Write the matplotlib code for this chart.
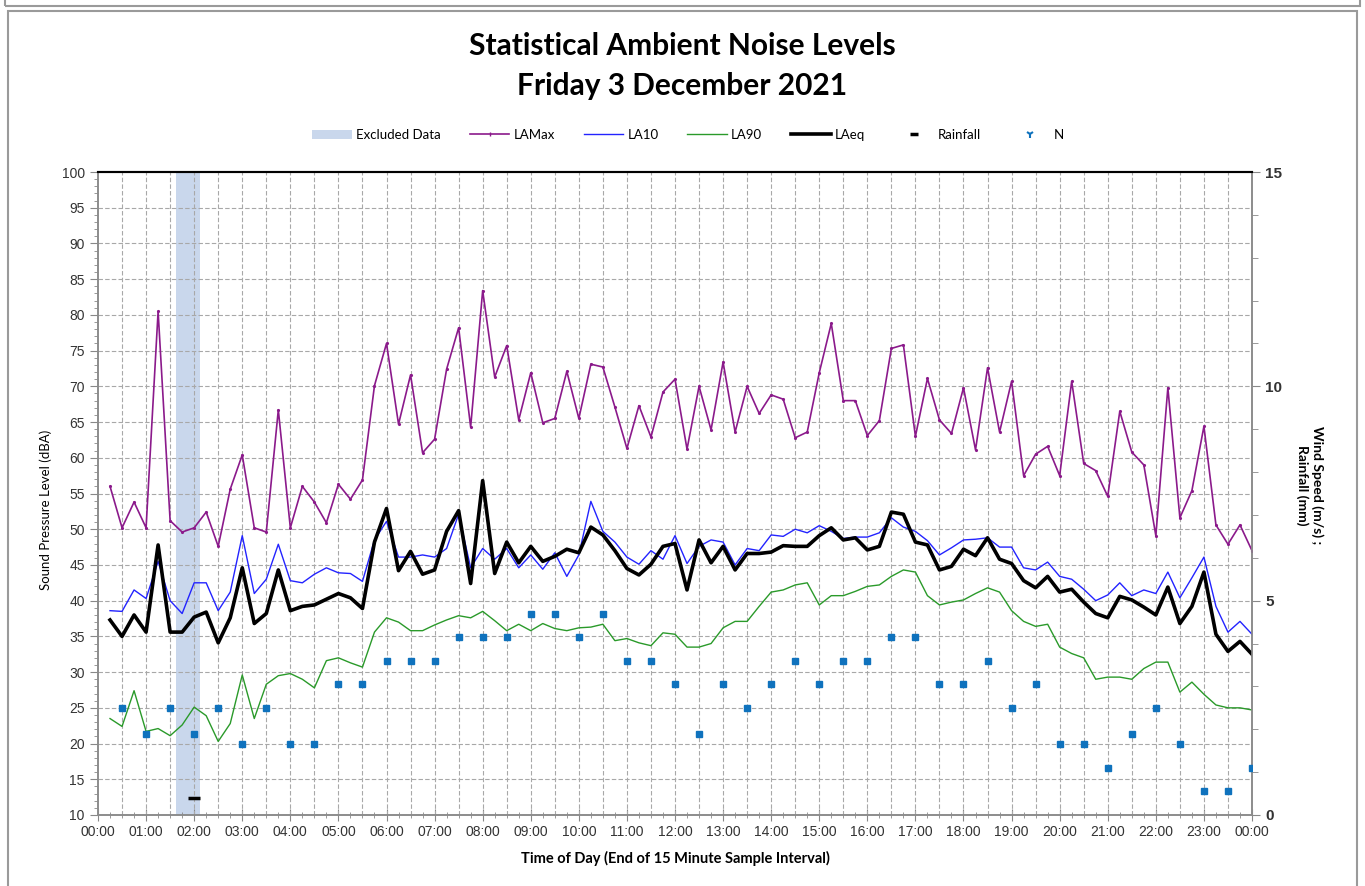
import matplotlib
matplotlib.use("Agg")
import matplotlib.pyplot as plt
import numpy as np
from matplotlib.lines import Line2D
from matplotlib.patches import Patch, Rectangle
from matplotlib.ticker import MultipleLocator

# 15 minute samples, end of interval, 00:15 .. 24:00 (in hours)
sample_hours = np.arange(1, 97) * 0.25
wind_hours = np.arange(1, 49) * 0.5

la_max = [56.0, 50.2, 53.8, 50.2, 80.5, 51.2, 49.6, 50.2, 52.4, 47.6, 55.6, 60.4,
          50.2, 49.6, 66.7, 50.2, 56.0, 53.8, 50.9, 56.3, 54.2, 56.9, 70.1, 76.0,
          64.7, 71.6, 60.7, 62.6, 72.4, 78.2, 64.3, 83.4, 71.3, 75.7, 65.3, 71.9,
          64.9, 65.5, 72.1, 65.5, 73.1, 72.7, 67.1, 61.3, 67.3, 62.9, 69.2, 71.0,
          61.2, 70.0, 63.9, 73.4, 63.6, 70.0, 66.2, 68.8, 68.2, 62.8, 63.6, 71.9,
          78.8, 68.0, 68.0, 63.1, 65.2, 75.3, 75.8, 63.0, 71.1, 65.3, 63.4, 69.8,
          61.1, 72.6, 63.6, 70.7, 57.5, 60.5, 61.6, 57.5, 70.7, 59.2, 58.2, 54.6,
          66.5, 60.8, 59.0, 49.1, 69.8, 51.6, 55.4, 64.4, 50.6, 47.9, 50.6, 47.0]

la10 = [38.6, 38.5, 41.5, 40.3, 45.5, 40.0, 38.2, 42.5, 42.5, 38.6, 41.2, 49.1,
        41.0, 43.0, 47.9, 42.8, 42.5, 43.7, 44.6, 43.9, 43.8, 42.7, 48.5, 51.1,
        46.1, 46.1, 46.4, 46.1, 47.3, 52.1, 44.6, 47.3, 45.8, 47.3, 44.6, 46.4,
        44.4, 46.7, 43.4, 46.4, 53.9, 49.7, 48.2, 46.1, 45.1, 47.0, 45.8, 49.1,
        45.2, 47.6, 48.5, 48.2, 45.0, 47.3, 47.0, 49.2, 49.0, 50.0, 49.5, 50.5,
        49.7, 48.7, 48.9, 48.9, 49.5, 51.6, 50.3, 49.7, 48.4, 46.4, 47.4, 48.5,
        48.6, 48.8, 47.5, 47.5, 44.6, 44.3, 45.4, 43.4, 43.0, 41.6, 40.0, 40.8,
        42.5, 40.7, 41.5, 41.0, 44.0, 40.4, 43.2, 46.1, 39.2, 35.6, 37.1, 35.3]

la90 = [23.5, 22.4, 27.4, 21.7, 22.1, 21.1, 22.6, 25.1, 23.9, 20.3, 22.8, 29.6,
        23.5, 28.3, 29.5, 29.8, 29.0, 27.8, 31.6, 32.0, 31.3, 30.7, 35.6, 37.6,
        37.0, 35.8, 35.8, 36.6, 37.3, 37.9, 37.6, 38.5, 37.2, 35.8, 36.7, 35.8,
        36.8, 36.1, 35.8, 36.2, 36.3, 36.7, 34.4, 34.7, 34.1, 33.7, 35.5, 35.3,
        33.5, 33.5, 34.0, 36.2, 37.1, 37.1, 39.2, 41.2, 41.5, 42.2, 42.5, 39.4,
        40.7, 40.7, 41.3, 42.0, 42.2, 43.4, 44.3, 44.0, 40.7, 39.4, 39.8, 40.1,
        41.0, 41.8, 41.2, 38.6, 37.1, 36.4, 36.7, 33.5, 32.6, 32.0, 29.0, 29.3,
        29.3, 29.0, 30.5, 31.4, 31.4, 27.2, 28.6, 26.9, 25.4, 25.0, 25.0, 24.7]

la_eq = [37.3, 35.0, 38.0, 35.6, 47.8, 35.6, 35.6, 37.7, 38.4, 34.1, 37.6, 44.6,
         36.8, 38.2, 44.3, 38.6, 39.2, 39.4, 40.2, 41.0, 40.4, 38.9, 48.2, 52.9,
         44.2, 46.9, 43.7, 44.3, 49.7, 52.6, 42.4, 56.8, 43.8, 48.2, 45.3, 47.6,
         45.5, 46.2, 47.2, 46.7, 50.3, 49.2, 47.0, 44.5, 43.6, 45.1, 47.6, 48.0,
         41.5, 48.5, 45.3, 47.6, 44.3, 46.6, 46.6, 46.8, 47.7, 47.6, 47.6, 49.1,
         50.2, 48.5, 48.8, 47.1, 47.6, 52.4, 52.1, 48.2, 47.8, 44.3, 44.8, 47.2,
         46.3, 48.8, 45.8, 45.2, 42.8, 41.8, 43.4, 41.2, 41.6, 39.8, 38.2, 37.6,
         40.6, 40.1, 39.1, 38.0, 41.9, 36.8, 39.2, 44.0, 35.3, 32.9, 34.3, 32.5]

wind_speed = [2.5, 1.9, 2.5, 1.9, 2.5, 1.65, 2.5, 1.65, 1.65, 3.05, 3.05, 3.6,
              3.6, 3.6, 4.15, 4.15, 4.15, 4.7, 4.7, 4.15, 4.7, 3.6, 3.6, 3.05,
              1.9, 3.05, 2.5, 3.05, 3.6, 3.05, 3.6, 3.6, 4.15, 4.15, 3.05, 3.05,
              3.6, 2.5, 3.05, 1.65, 1.65, 1.1, 1.9, 2.5, 1.65, 0.55, 0.55, 1.1]

rain_hours = [2.0]
rain_mm = [0.4]

excluded_start = 1.625
excluded_end = 2.125

hour_labels = ["%02d:00" % (h % 24) for h in range(25)]

FONT = ["Liberation Sans", "DejaVu Sans"]
TITLE_FONT = ["Lato", "DejaVu Sans"]

fig = plt.figure(figsize=(13.65, 8.86), dpi=100)

# outer frames like the report page
fig.patches.append(Rectangle((5 / 1365, 1 - 6 / 886), 1355 / 1365, 0.02,
                             transform=fig.transFigure, fill=False,
                             edgecolor="#9a9a9a", lw=1.5))
fig.patches.append(Rectangle((8 / 1365, -0.01), 1349 / 1365, 1 - 11 / 886 + 0.01,
                             transform=fig.transFigure, fill=False,
                             edgecolor="#9a9a9a", lw=1.5))

ax = fig.add_axes([98 / 1365, 1 - 815 / 886, (1252 - 98) / 1365, (815 - 172) / 886])
ax2 = ax.twinx()

ax.axvspan(excluded_start, excluded_end, color="#c9d7ec", zorder=1, lw=0)

ax.plot(sample_hours, la_max, color="#8b1a8b", lw=1.2, marker=".", ms=2.5, zorder=3)
ax.plot(sample_hours, la10, color="#2323ff", lw=1.0, zorder=3)
ax.plot(sample_hours, la90, color="#2a9a2a", lw=1.0, zorder=3)
ax.plot(sample_hours, la_eq, color="black", lw=2.6, zorder=4)

ax2.plot(wind_hours, wind_speed, ls="none", marker="s", ms=5, color="#0f72bd", zorder=5)
ax2.plot(rain_hours, rain_mm, ls="none", marker="_", ms=9, mew=2.5, color="black", zorder=5)

ax.set_xlim(0, 24)
ax.set_ylim(10, 100)
ax2.set_ylim(0, 15)

ax.set_xticks(np.arange(25))
ax.set_xticklabels(hour_labels, fontsize=10, color="#333333", family=FONT)
ax.xaxis.set_minor_locator(MultipleLocator(0.25))
ax.tick_params(axis="x", which="major", direction="inout", length=8, color="#888888")
ax.tick_params(axis="x", which="minor", direction="inout", length=4, color="#888888")

ax.yaxis.set_major_locator(MultipleLocator(5))
ax.yaxis.set_minor_locator(MultipleLocator(1))
ax.tick_params(axis="y", which="major", direction="out", length=6, color="#888888",
               labelsize=10, labelcolor="#333333")
ax.tick_params(axis="y", which="minor", direction="out", length=3, color="#888888")
for lab in ax.get_yticklabels():
    lab.set_family(FONT)

ax2.yaxis.set_major_locator(MultipleLocator(5))
ax2.yaxis.set_minor_locator(MultipleLocator(1))
ax2.tick_params(axis="y", which="major", direction="out", length=6, color="#888888",
                labelsize=11, labelcolor="#333333")
ax2.tick_params(axis="y", which="minor", direction="out", length=4, color="#888888")
for lab in ax2.get_yticklabels():
    lab.set_family(FONT)
    lab.set_fontweight("bold")

# grid: every 30 minutes and every 5 dB
for x in np.arange(0.5, 24.01, 0.5):
    ax.axvline(x, color="#a8a8a8", lw=0.8, ls=(0, (4, 2)), zorder=2)
for y in np.arange(15, 100, 5):
    ax.axhline(y, color="#a8a8a8", lw=0.8, ls=(0, (4, 2)), zorder=2)

for a in (ax, ax2):
    for side in ("left", "right", "bottom"):
        a.spines[side].set_color("#8c8c8c")
        a.spines[side].set_linewidth(1.2)
    a.spines["top"].set_color("black")
    a.spines["top"].set_linewidth(1.5)

ax.set_ylabel("Sound Pressure Level (dBA)", fontsize=9.5, family=TITLE_FONT)
ax.yaxis.set_label_coords(-0.040, 0.474)
ax2.set_ylabel("Wind Speed (m/s) ;\nRainfall (mm)", fontsize=10, family=TITLE_FONT,
               rotation=270, fontweight="bold")
ax2.yaxis.set_label_coords(1.062, 0.513)
ax.set_xlabel("Time of Day (End of 15 Minute Sample Interval)", fontsize=10.5,
              family=TITLE_FONT, fontweight="bold", labelpad=8)

fig.text(0.5, 1 - 46 / 886, "Statistical Ambient Noise Levels", ha="center",
         va="center", fontsize=21.5, fontweight="bold", family=TITLE_FONT)
fig.text(0.5, 1 - 86 / 886, "Friday 3 December 2021", ha="center",
         va="center", fontsize=21.5, fontweight="bold", family=TITLE_FONT)

handles = [
    Patch(facecolor="#c9d7ec", edgecolor="none", label="Excluded Data"),
    Line2D([], [], color="#8b1a8b", lw=1.2, marker="|", ms=3, label="LAMax"),
    Line2D([], [], color="#2323ff", lw=1.0, label="LA10"),
    Line2D([], [], color="#2a9a2a", lw=1.0, label="LA90"),
    Line2D([], [], color="black", lw=2.6, label="LAeq"),
    Line2D([], [], ls="none", marker="_", ms=6, mew=2.5, color="black", label="Rainfall"),
    Line2D([], [], ls="none", marker="1", ms=6, mew=1.5, color="#0f72bd", label="N"),
]
fig.legend(handles=handles, loc="center", bbox_to_anchor=(688 / 1365, 1 - 135 / 886),
           ncol=7, frameon=False, handlelength=3, handletextpad=0.3,
           columnspacing=2.2, prop={"family": TITLE_FONT, "size": 9.5})

fig.savefig("out.png", dpi=100, facecolor="white")
